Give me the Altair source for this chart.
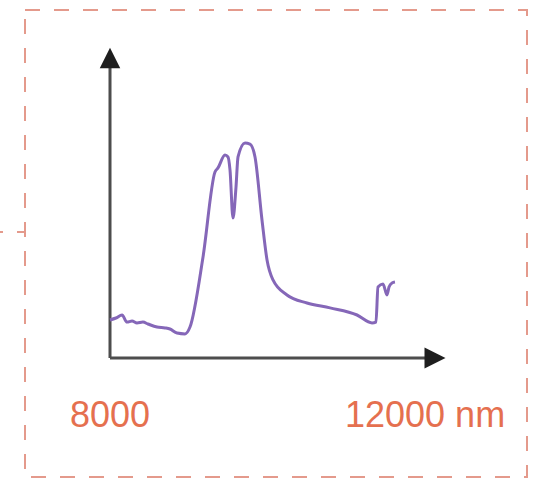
import altair as alt
import pandas as pd

# Spectrum (wavelength in nm, relative intensity, peak = 1)
wavelength_nm = [8000, 8083, 8167, 8236, 8306, 8375, 8458, 8528, 8653, 8764,
                 8833, 8931, 9042, 9111, 9292, 9458, 9500, 9597, 9639, 9667,
                 9708, 9750, 9778, 9875, 9944, 10014, 10111, 10181, 10264, 10458,
                 10736, 11056, 11431, 11639, 11694, 11722, 11792, 11847, 11875, 11917,
                 11958]
intensity = [0.177, 0.186, 0.200, 0.167, 0.172, 0.163, 0.167, 0.158, 0.144, 0.140,
             0.135, 0.116, 0.112, 0.144, 0.470, 0.865, 0.884, 0.944, 0.935, 0.874,
             0.651, 0.795, 0.935, 1.000, 0.995, 0.935, 0.642, 0.456, 0.363, 0.293,
             0.256, 0.233, 0.200, 0.163, 0.167, 0.330, 0.344, 0.293, 0.330, 0.349,
             0.353]

tick_values = [8000, 12000]
tick_labels = ["8000", "12000 nm"]

# axis extents (data units)
x_axis_end = 12444
x_arrow_center = 12514
y_axis_end = 1.36
y_arrow_center = 1.395

PLOT_W, PLOT_H = 502, 467
NM_PER_PX = 4000 / 288
X_LO = 8000 - 85 * NM_PER_PX
X_HI = X_LO + PLOT_W * NM_PER_PX
I_PER_PX = 1 / 215
Y_LO = -119 * I_PER_PX
Y_HI = 348 * I_PER_PX

xs = alt.Scale(domain=[X_LO, X_HI], nice=False, zero=False)
ys = alt.Scale(domain=[Y_LO, Y_HI], nice=False, zero=False)

spec = pd.DataFrame({"wl": wavelength_nm, "I": intensity})
axes_df = pd.DataFrame({
    "x1": [tick_values[0], tick_values[0]],
    "x2": [tick_values[0], x_axis_end],
    "y1": [0.0, 0.0],
    "y2": [y_axis_end, 0.0],
})

AXIS_COLOR = "#4d4d4d"
LABEL_COLOR = "#e5704f"

axes = alt.Chart(axes_df).mark_rule(color=AXIS_COLOR, strokeWidth=3).encode(
    x=alt.X("x1:Q", scale=xs, axis=None),
    x2="x2:Q",
    y=alt.Y("y1:Q", scale=ys, axis=None),
    y2="y2:Q",
)

y_arrow = alt.Chart(pd.DataFrame({"x": [tick_values[0]], "y": [y_arrow_center]})).mark_point(
    shape="M0,-1L1,1L-1,1Z", filled=True, size=420, color="#1e1e1e", opacity=1
).encode(x=alt.X("x:Q", scale=xs, axis=None), y=alt.Y("y:Q", scale=ys, axis=None))

x_arrow = alt.Chart(pd.DataFrame({"x": [x_arrow_center], "y": [0.0]})).mark_point(
    shape="M1,0L-1,-1L-1,1Z", filled=True, size=441, color="#1e1e1e", opacity=1
).encode(x=alt.X("x:Q", scale=xs, axis=None), y=alt.Y("y:Q", scale=ys, axis=None))

line = alt.Chart(spec).mark_line(
    color="#8567b8", strokeWidth=3, interpolate="monotone"
).encode(
    x=alt.X("wl:Q", scale=xs, axis=None),
    y=alt.Y("I:Q", scale=ys, axis=None),
)

lab1 = alt.Chart(pd.DataFrame({"x": [tick_values[0]], "t": [tick_labels[0]]})).mark_text(
    font="Liberation Sans", fontSize=36, color=LABEL_COLOR, align="center", baseline="alphabetic"
).encode(x=alt.X("x:Q", scale=xs, axis=None), y=alt.value(417), text="t:N")

lab2 = alt.Chart(pd.DataFrame({"x": [tick_values[1]], "t": [tick_labels[1]]})).mark_text(
    font="Liberation Sans", fontSize=36, color=LABEL_COLOR, align="left", baseline="alphabetic", dx=-53
).encode(x=alt.X("x:Q", scale=xs, axis=None), y=alt.value(417), text="t:N")

connector = alt.Chart(pd.DataFrame({"a": [0]})).mark_rule(
    color="#e49a8c", strokeWidth=2, strokeDash=[3, 14, 8, 100]
).encode(x=alt.value(-25), x2=alt.value(0), y=alt.value(222))

chart = alt.layer(axes, line, y_arrow, x_arrow, lab1, lab2, connector).properties(
    width=PLOT_W,
    height=PLOT_H,
    padding={"left": 25, "top": 10, "right": 17, "bottom": 3},
    autosize=alt.AutoSizeParams(type="none"),
    background="white",
).configure_view(
    stroke="#e49a8c", strokeWidth=2, strokeDash=[15, 14]
)

chart.save("out.html", embed_options={"renderer": "svg", "actions": False})
